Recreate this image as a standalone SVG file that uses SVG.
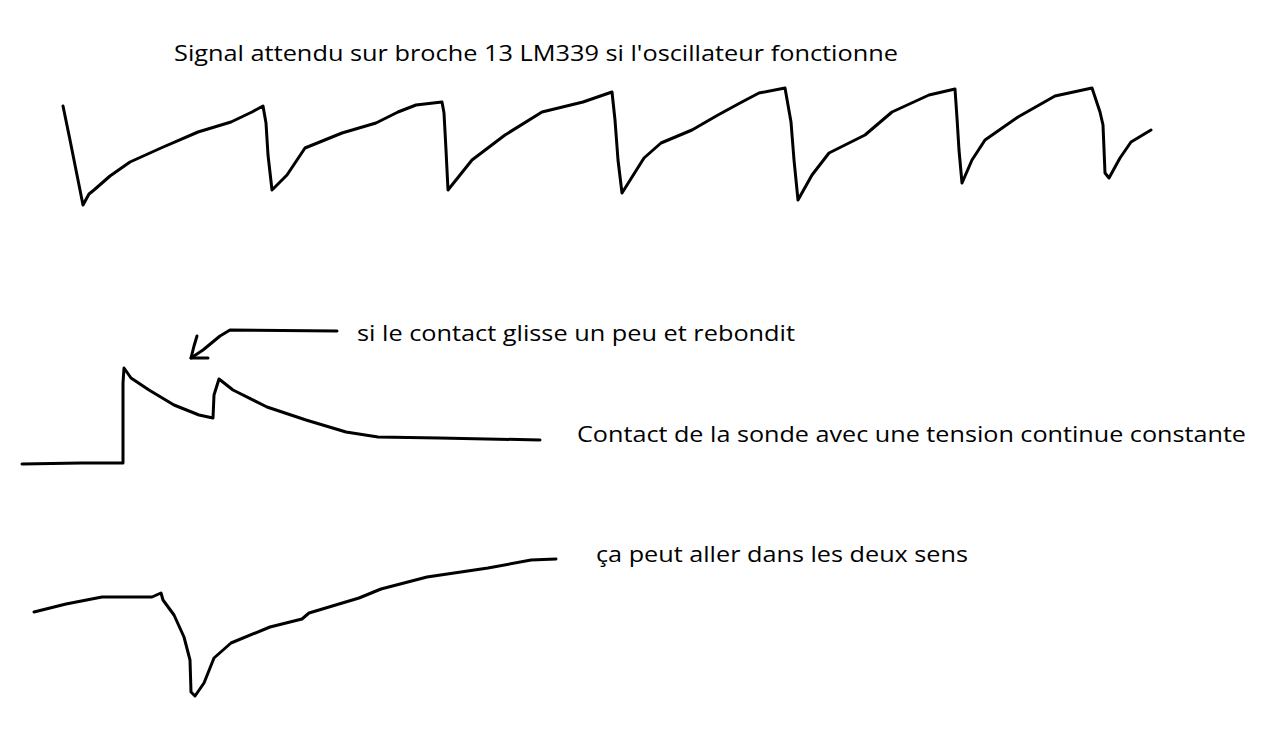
<svg xmlns="http://www.w3.org/2000/svg" width="1280" height="733" viewBox="0 0 1280 733">
<style>
.w{fill:none;stroke:#000;stroke-width:3;stroke-linejoin:round;stroke-linecap:round}
.t{font-family:"Open Sans","Noto Sans","Liberation Sans",sans-serif;font-size:21px;fill:#000}
</style>
<rect width="1280" height="733" fill="#fff"/>
<text class="t" x="174" y="61" textLength="724" lengthAdjust="spacingAndGlyphs">Signal attendu sur broche 13 LM339 si l'oscillateur fonctionne</text>
<path id="top-wave" class="w" d="M63,106 L70,140 L75,165 L83,205 L89,194 L94,190 L110,176 L130,162 L161,148 L198,132 L231,122 L252,112 L263,106 L266,123 L268,155 L272,190 L287,175 L305,148 L342,133 L376,123 L398,112 L416,105 L442,102 L444,113 L446,150 L448,190 L472,160 L505,135 L542,112 L583,102 L612,92 L615,120 L618,160 L622,193 L644,158 L661,143 L692,130 L718,115 L740,103 L759,93 L785,88 L791,122 L794,160 L798,200 L812,175 L829,153 L865,135 L892,112 L929,95 L955,89 L957,118 L959,150 L962,183 L972,160 L985,140 L1018,117 L1055,96 L1092,88 L1100,112 L1103,125 L1105,173 L1109,178 L1120,158 L1131,142 L1151,130"/>
<g id="arrow">
<path class="w" d="M337,331 L230,330 L220,336 L203,350 L191,358"/>
<path class="w" d="M197,336 L194,346 L191,358 L208,358"/>
</g>
<text class="t" x="357" y="341" textLength="438" lengthAdjust="spacingAndGlyphs">si le contact glisse un peu et rebondit</text>
<path id="mid-wave" class="w" d="M22,464 L81,463 L123,463 L123,383 L124,368 L131,378 L149,390 L174,405 L199,415 L213,418 L214,395 L219,379 L233,390 L267,407 L306,420 L346,432 L378,437 L439,438 L540,440"/>
<text class="t" x="577" y="442" textLength="669" lengthAdjust="spacingAndGlyphs">Contact de la sonde avec une tension continue constante</text>
<path id="bot-wave" class="w" d="M34,612 L66,604 L102,597 L152,597 L161,593 L163,600 L174,615 L184,637 L190,660 L191,692 L195,696 L204,683 L214,658 L231,643 L270,627 L302,619 L309,613 L359,598 L381,589 L427,577 L488,568 L531,560 L556,559"/>
<text class="t" x="596" y="562" textLength="372" lengthAdjust="spacingAndGlyphs">ça peut aller dans les deux sens</text>
</svg>
